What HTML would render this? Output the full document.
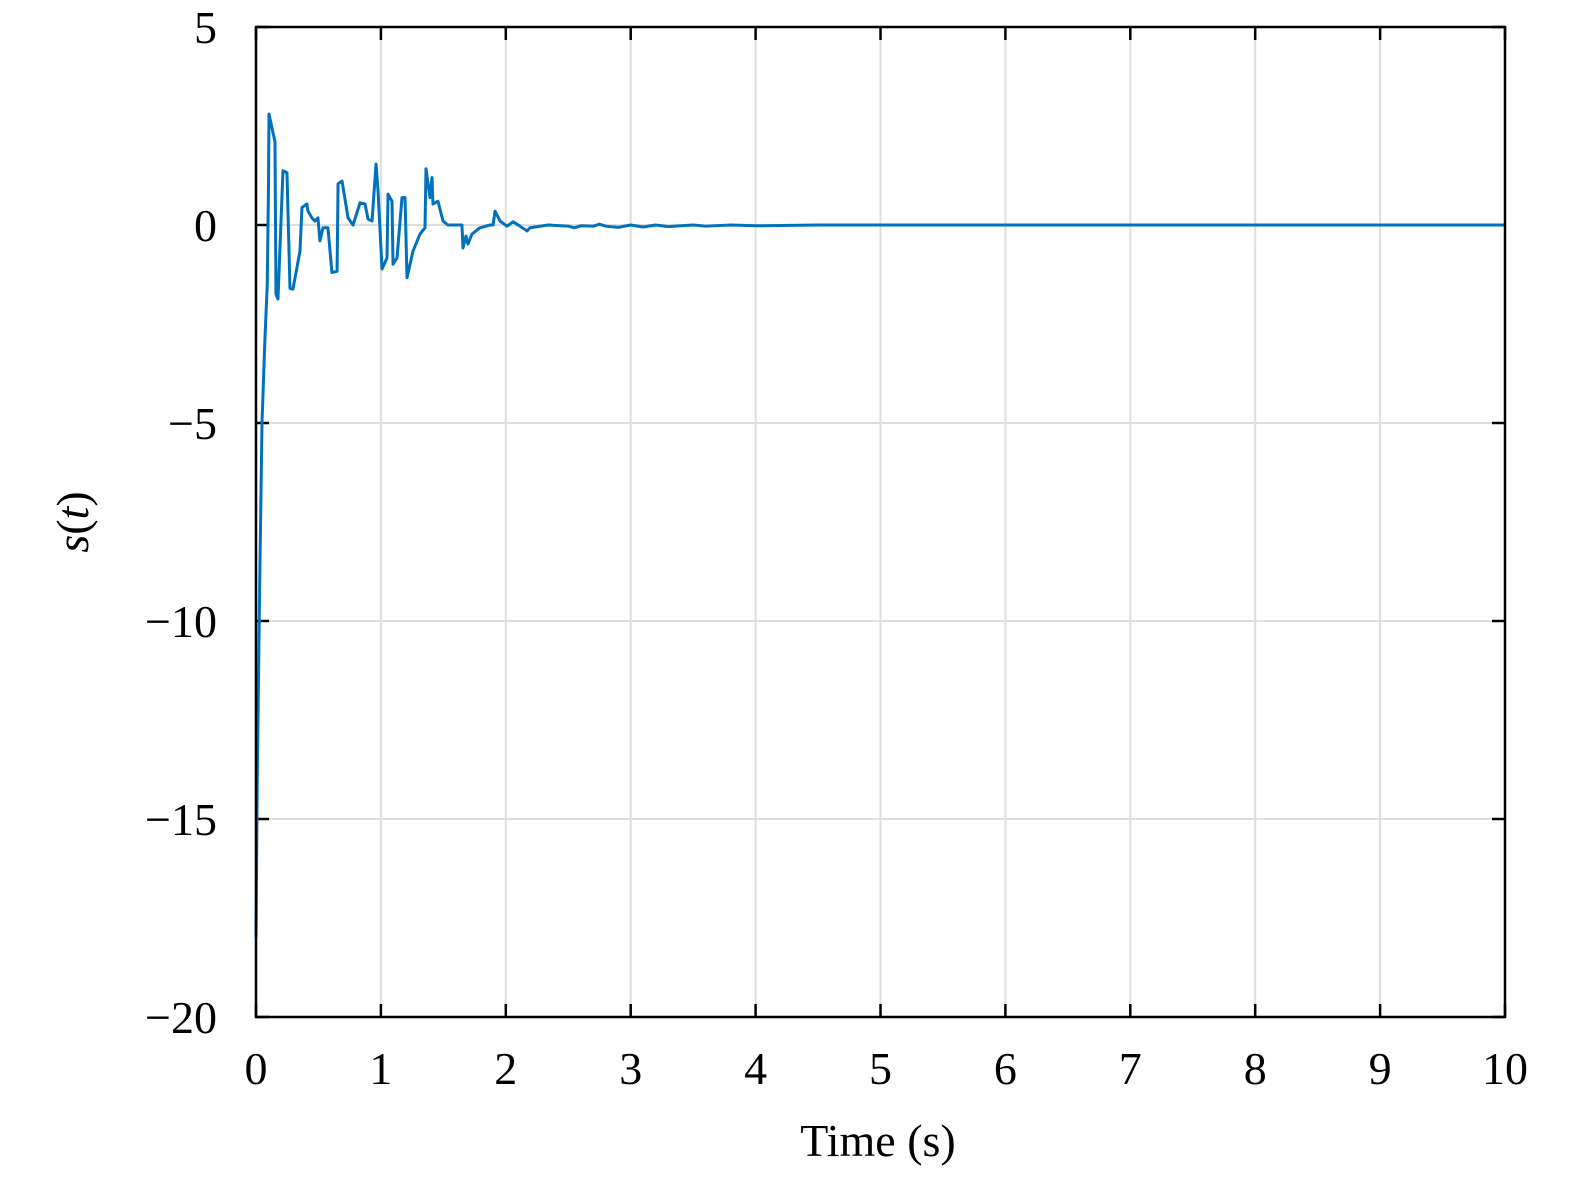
<!DOCTYPE html>
<html><head><meta charset="utf-8"><style>
body{margin:0;background:#fff}
svg text{font-family:"Liberation Serif",serif;fill:#000}
</style></head><body>
<svg width="1575" height="1179" xmlns="http://www.w3.org/2000/svg">
<g id="grid"></g>
<g id="ticks"></g>
<g id="series"></g>
<rect x="256" y="27" width="1249" height="990" fill="none" stroke="#000" stroke-width="2.5"/>
<text x="878" y="1156" font-size="46" text-anchor="middle">Time (s)</text>
<text transform="translate(88,522) rotate(-90)" font-size="46" text-anchor="middle"><tspan font-style="italic">s</tspan>(<tspan font-style="italic">t</tspan>)</text>
</svg>
<script>
const xTicks=[0,1,2,3,4,5,6,7,8,9,10];
const yTicks=[5,0,-5,-10,-15,-20];
const yTickLabels=["5","0","\u22125","\u221210","\u221215","\u221220"];
const tVals=[0,0.01,0.03,0.048,0.07,0.09,0.1,0.104,0.152,0.16,0.176,0.216,0.248,0.272,0.296,0.352,0.368,0.408,0.416,0.448,0.472,0.496,0.512,0.536,0.576,0.608,0.649,0.657,0.689,0.737,0.777,0.833,0.873,0.897,0.929,0.961,0.977,1.009,1.049,1.057,1.089,1.097,1.129,1.169,1.193,1.209,1.257,1.313,1.353,1.361,1.393,1.409,1.417,1.457,1.497,1.537,1.649,1.657,1.681,1.697,1.729,1.793,1.873,1.898,1.914,1.954,2.01,2.058,2.114,2.17,2.194,2.34,2.5,2.55,2.6,2.7,2.75,2.8,2.9,3.0,3.1,3.2,3.3,3.5,3.6,3.8,4.0,4.5,10];
const sVals=[-18,-14,-9,-5,-3,-1.5,1,2.8,2.1,-1.75,-1.87,1.37,1.32,-1.6,-1.62,-0.66,0.44,0.53,0.35,0.18,0.1,0.18,-0.4,-0.07,-0.07,-1.2,-1.17,1.04,1.11,0.18,0,0.56,0.53,0.15,0.1,1.54,0.86,-1.11,-0.83,0.78,0.6,-0.99,-0.83,0.69,0.69,-1.33,-0.66,-0.23,-0.07,1.42,0.69,1.2,0.53,0.6,0.1,0,0,-0.58,-0.28,-0.48,-0.23,-0.07,0,0,0.35,0.1,-0.03,0.08,-0.03,-0.15,-0.07,0,-0.03,-0.07,-0.02,-0.03,0.02,-0.03,-0.06,0,-0.05,0,-0.04,0,-0.03,0,-0.02,0,0];
const X=t=>256+t*124.9;
const Y=v=>225-v*39.6;
const NS="http://www.w3.org/2000/svg";
const grid=document.getElementById('grid'),ticks=document.getElementById('ticks'),series=document.getElementById('series');
function mk(tag,attrs,parent){const e=document.createElementNS(NS,tag);for(const k in attrs)e.setAttribute(k,attrs[k]);parent.appendChild(e);return e;}
xTicks.forEach(t=>{
  const x=X(t);
  const g=mk('line',{x1:x,x2:x,y1:27,y2:1017,stroke:'#dedede','stroke-width':2},grid);
  
  
  const a=mk('line',{x1:x,x2:x,y1:1017,y2:1004,stroke:'#000','stroke-width':2.5},ticks);
  
  
  const b=mk('line',{x1:x,x2:x,y1:27,y2:40,stroke:'#000','stroke-width':2.5},ticks);
  
  
  const l=mk('text',{x:x,y:1084,'font-size':46,'text-anchor':'middle'},ticks);
  l.textContent=String(t);
  
  
});
yTicks.forEach((v,i)=>{
  const y=Y(v);
  const g=mk('line',{x1:256,x2:1505,y1:y,y2:y,stroke:'#dedede','stroke-width':2},grid);
  
  
  const a=mk('line',{x1:256,x2:269,y1:y,y2:y,stroke:'#000','stroke-width':2.5},ticks);
  
  
  const b=mk('line',{x1:1505,x2:1492,y1:y,y2:y,stroke:'#000','stroke-width':2.5},ticks);
  
  
  const l=mk('text',{x:217,y:y+16,'font-size':46,'text-anchor':'end'},ticks);
  l.textContent=yTickLabels[i];
  
  
});
const p=mk('polyline',{points:tVals.map((t,i)=>X(t)+','+Y(sVals[i])).join(' '),fill:'none',stroke:'#0072bd','stroke-width':3,'stroke-linejoin':'round'},series);


</script>
</body></html>
